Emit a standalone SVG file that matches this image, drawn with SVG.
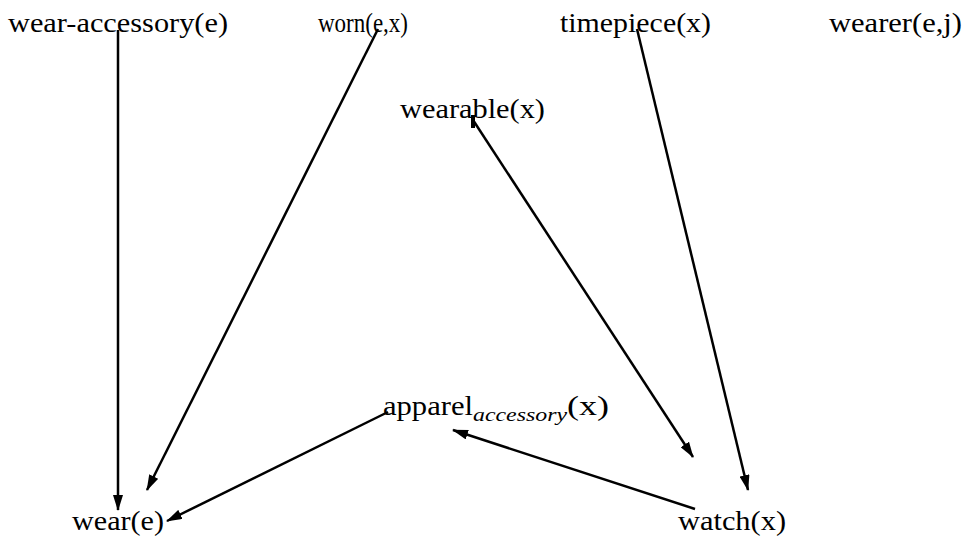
<svg xmlns="http://www.w3.org/2000/svg" width="964" height="542" viewBox="0 0 964 542">
<defs>
<marker id="ah" markerWidth="16" markerHeight="10" refX="15" refY="5" orient="auto" markerUnits="userSpaceOnUse">
<path d="M0,0 L16,5 L0,10 Z" fill="#000"/>
</marker>
<style>
text{font-family:"Liberation Serif","DejaVu Serif",serif;font-size:27px;fill:#000}
.sub{font-style:italic;font-size:19px}
.c{stroke:#000;stroke-width:2.5;fill:none;marker-end:url(#ah)}
</style>
</defs>
<rect width="964" height="542" fill="#fff"/>
<g id="connectors">
<line class="c" x1="118" y1="30" x2="118" y2="510"/>
<line class="c" x1="378" y1="29" x2="147" y2="490"/>
<line class="c" x1="473" y1="120" x2="693" y2="457"/>
<path d="M473,115 L473,128" stroke="#000" stroke-width="4"/>
<line class="c" x1="637" y1="29" x2="748" y2="490"/>
<line class="c" x1="695" y1="509" x2="453" y2="430"/>
<line class="c" x1="388" y1="412" x2="167" y2="521"/>
</g>
<g id="wear-accessory"><text x="8" y="32" textLength="220" lengthAdjust="spacingAndGlyphs">wear-accessory(e)</text></g>
<g id="worn"><text x="318" y="32" textLength="90" lengthAdjust="spacingAndGlyphs">worn(e,x)</text></g>
<g id="timepiece"><text x="560" y="32" textLength="151" lengthAdjust="spacingAndGlyphs">timepiece(x)</text></g>
<g id="wearer"><text x="829" y="32" textLength="133" lengthAdjust="spacingAndGlyphs">wearer(e,j)</text></g>
<g id="wearable"><text x="400" y="118" textLength="145" lengthAdjust="spacingAndGlyphs">wearable(x)</text></g>
<g id="apparel"><text x="383" y="415"><tspan textLength="90" lengthAdjust="spacingAndGlyphs">apparel</tspan><tspan class="sub" dy="6" textLength="94" lengthAdjust="spacingAndGlyphs">accessory</tspan><tspan dy="-6" textLength="42" lengthAdjust="spacingAndGlyphs">(x)</tspan></text></g>
<g id="wear"><text x="72" y="530" textLength="92" lengthAdjust="spacingAndGlyphs">wear(e)</text></g>
<g id="watch"><text x="678" y="530" textLength="108" lengthAdjust="spacingAndGlyphs">watch(x)</text></g>
</svg>
